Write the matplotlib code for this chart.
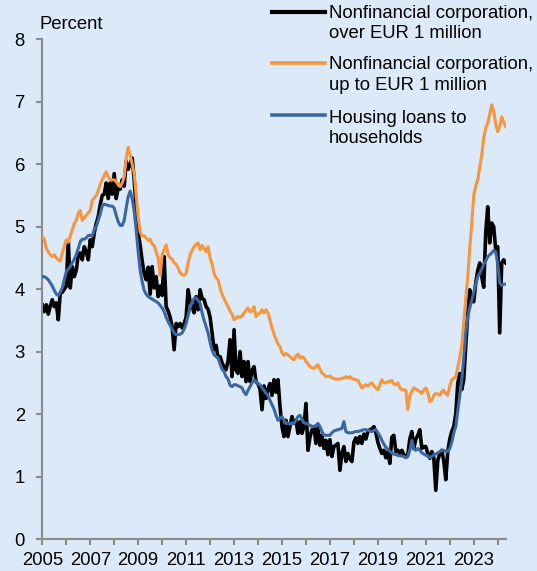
import numpy as np
import pandas as pd
import matplotlib
matplotlib.use("Agg")
import matplotlib.pyplot as plt
from matplotlib.lines import Line2D

plt.rcParams['font.family'] = ['Liberation Sans', 'DejaVu Sans']

# monthly interest rates, Jan 2005 - May 2024 (percent)
nfc_over_1m = [
    3.75, 3.64, 3.75, 3.60, 3.73, 3.83, 3.72, 3.78, 3.51, 3.94, 3.95, 4.00,  # 2005
    4.05, 4.78, 4.02, 4.36, 4.20, 4.30, 4.55, 4.58, 4.47, 4.68, 4.60, 4.47,  # 2006
    4.79, 4.68, 4.90, 5.05, 5.16, 5.35, 5.50, 5.52, 5.70, 5.45, 5.70, 5.52,  # 2007
    5.85, 5.45, 5.62, 5.60, 5.75, 5.65, 6.05, 5.92, 6.00, 6.10, 5.75, 5.30,  # 2008
    4.90, 4.70, 4.45, 4.25, 4.15, 4.35, 3.92, 4.36, 4.02, 4.20, 3.88, 4.05,  # 2009
    3.90, 4.52, 3.72, 3.65, 3.55, 3.40, 3.03, 3.45, 3.40, 3.45, 3.38, 3.45,  # 2010
    3.55, 3.99, 3.80, 3.72, 3.62, 3.88, 3.67, 3.99, 3.85, 3.83, 3.72, 3.68,  # 2011
    3.55, 3.30, 3.03, 3.10, 2.90, 2.92, 2.82, 2.75, 2.71, 2.85, 3.19, 2.60,  # 2012
    3.35, 2.70, 2.65, 3.00, 2.60, 2.84, 2.52, 2.84, 2.52, 2.70, 2.76, 2.52,  # 2013
    2.48, 2.40, 2.07, 2.45, 2.25, 2.40, 2.49, 2.30, 2.55, 2.35, 2.55, 2.12,  # 2014
    1.80, 1.64, 1.90, 1.64, 1.80, 1.96, 1.85, 1.90, 1.69, 1.88, 1.69, 1.80,  # 2015
    2.17, 1.42, 1.63, 1.75, 1.80, 1.53, 1.78, 1.50, 1.66, 1.45, 1.58, 1.35,  # 2016
    1.59, 1.32, 1.48, 1.50, 1.53, 1.10, 1.37, 1.48, 1.24, 1.37, 1.28, 1.24,  # 2017
    1.55, 1.62, 1.53, 1.64, 1.53, 1.68, 1.60, 1.72, 1.75, 1.76, 1.80, 1.70,  # 2018
    1.55, 1.45, 1.37, 1.42, 1.30, 1.40, 1.21, 1.63, 1.66, 1.40, 1.42, 1.37,  # 2019
    1.42, 1.35, 1.32, 1.35, 1.60, 1.72, 1.45, 1.60, 1.66, 1.75, 1.45, 1.48,  # 2020
    1.48, 1.37, 1.29, 1.40, 1.30, 0.78, 1.26, 1.37, 1.42, 1.25, 0.95, 1.40,  # 2021
    1.60, 1.72, 1.80, 2.00, 2.49, 2.65, 2.39, 2.55, 3.10, 3.60, 3.99, 3.80,  # 2022
    3.80, 4.10, 4.30, 4.42, 4.20, 4.03, 4.90, 5.32, 4.74, 5.06, 5.00, 4.63,  # 2023
    4.68, 3.30, 4.42, 4.47, 4.42,                                            # 2024
]

nfc_up_to_1m = [
    4.84, 4.80, 4.65, 4.60, 4.55, 4.52, 4.55, 4.50, 4.47, 4.45, 4.58, 4.68,  # 2005
    4.79, 4.75, 4.85, 4.95, 5.05, 5.10, 5.22, 5.26, 5.10, 5.14, 5.18, 5.22,  # 2006
    5.26, 5.42, 5.46, 5.50, 5.58, 5.68, 5.75, 5.82, 5.88, 5.80, 5.75, 5.75,  # 2007
    5.75, 5.72, 5.68, 5.64, 5.70, 5.80, 6.10, 6.27, 6.15, 6.00, 5.85, 5.50,  # 2008
    5.15, 4.92, 4.85, 4.85, 4.82, 4.78, 4.80, 4.72, 4.70, 4.60, 4.50, 4.22,  # 2009
    4.55, 4.63, 4.71, 4.55, 4.50, 4.48, 4.42, 4.40, 4.34, 4.26, 4.23, 4.22,  # 2010
    4.25, 4.42, 4.55, 4.62, 4.68, 4.72, 4.74, 4.63, 4.70, 4.65, 4.60, 4.68,  # 2011
    4.50, 4.40, 4.25, 4.18, 4.15, 4.02, 3.92, 3.85, 3.78, 3.72, 3.65, 3.60,  # 2012
    3.51, 3.54, 3.56, 3.55, 3.57, 3.62, 3.66, 3.70, 3.64, 3.65, 3.72, 3.56,  # 2013
    3.60, 3.62, 3.67, 3.62, 3.67, 3.62, 3.50, 3.38, 3.28, 3.20, 3.12, 3.08,  # 2014
    2.98, 2.94, 2.97, 2.95, 2.92, 2.89, 2.87, 2.93, 2.96, 2.90, 2.92, 2.90,  # 2015
    2.84, 2.80, 2.76, 2.74, 2.73, 2.76, 2.79, 2.72, 2.66, 2.63, 2.60, 2.60,  # 2016
    2.61, 2.58, 2.57, 2.56, 2.56, 2.56, 2.57, 2.58, 2.60, 2.58, 2.60, 2.57,  # 2017
    2.56, 2.55, 2.54, 2.48, 2.42, 2.45, 2.47, 2.45, 2.48, 2.50, 2.45, 2.42,  # 2018
    2.39, 2.47, 2.55, 2.50, 2.50, 2.52, 2.52, 2.54, 2.48, 2.47, 2.50, 2.42,  # 2019
    2.39, 2.39, 2.38, 2.07, 2.30, 2.36, 2.42, 2.40, 2.38, 2.36, 2.33, 2.38,  # 2020
    2.42, 2.35, 2.20, 2.22, 2.30, 2.33, 2.32, 2.30, 2.36, 2.38, 2.33, 2.30,  # 2021
    2.45, 2.55, 2.57, 2.60, 2.75, 2.90, 3.10, 3.45, 3.85, 4.20, 4.65, 5.05,  # 2022
    5.50, 5.65, 5.75, 5.95, 6.15, 6.42, 6.58, 6.66, 6.80, 6.95, 6.85, 6.65,  # 2023
    6.52, 6.60, 6.76, 6.68, 6.60,                                            # 2024
]

housing = [
    4.20, 4.20, 4.18, 4.15, 4.10, 4.05, 3.98, 3.92, 3.90, 3.95, 4.02, 4.15,  # 2005
    4.28, 4.32, 4.36, 4.42, 4.48, 4.55, 4.65, 4.76, 4.80, 4.80, 4.82, 4.86,  # 2006
    4.86, 4.85, 4.95, 5.00, 5.10, 5.20, 5.33, 5.36, 5.35, 5.34, 5.33, 5.33,  # 2007
    5.30, 5.18, 5.08, 5.02, 5.02, 5.10, 5.30, 5.48, 5.57, 5.45, 5.25, 4.95,  # 2008
    4.60, 4.30, 4.12, 3.98, 3.92, 3.88, 3.86, 3.84, 3.82, 3.80, 3.78, 3.74,  # 2009
    3.70, 3.64, 3.55, 3.48, 3.42, 3.36, 3.30, 3.27, 3.27, 3.28, 3.30, 3.36,  # 2010
    3.45, 3.58, 3.70, 3.80, 3.85, 3.86, 3.82, 3.77, 3.62, 3.50, 3.40, 3.30,  # 2011
    3.15, 3.02, 2.95, 2.92, 2.90, 2.80, 2.72, 2.68, 2.60, 2.56, 2.46, 2.44,  # 2012
    2.47, 2.47, 2.45, 2.44, 2.42, 2.35, 2.31, 2.38, 2.44, 2.50, 2.55, 2.52,  # 2013
    2.48, 2.47, 2.42, 2.38, 2.33, 2.30, 2.22, 2.15, 2.08, 1.98, 1.90, 1.93,  # 2014
    1.96, 1.90, 1.85, 1.85, 1.84, 1.86, 1.85, 1.90, 1.96, 1.98, 1.92, 1.86,  # 2015
    1.85, 1.84, 1.82, 1.80, 1.80, 1.82, 1.85, 1.80, 1.72, 1.66, 1.66, 1.66,  # 2016
    1.66, 1.70, 1.73, 1.74, 1.75, 1.76, 1.77, 1.88, 1.72, 1.70, 1.70, 1.70,  # 2017
    1.71, 1.72, 1.72, 1.73, 1.74, 1.75, 1.75, 1.74, 1.73, 1.72, 1.74, 1.75,  # 2018
    1.70, 1.65, 1.58, 1.52, 1.47, 1.44, 1.40, 1.38, 1.36, 1.35, 1.34, 1.33,  # 2019
    1.33, 1.32, 1.30, 1.32, 1.42, 1.58, 1.44, 1.42, 1.45, 1.42, 1.38, 1.36,  # 2020
    1.34, 1.33, 1.30, 1.32, 1.35, 1.36, 1.38, 1.40, 1.42, 1.42, 1.40, 1.40,  # 2021
    1.45, 1.55, 1.70, 1.80, 2.05, 2.30, 2.55, 2.90, 3.30, 3.56, 3.70, 3.82,  # 2022
    3.95, 4.08, 4.20, 4.25, 4.32, 4.40, 4.45, 4.52, 4.55, 4.58, 4.62, 4.60,  # 2023
    4.40, 4.10, 4.06, 4.08, 4.08,                                            # 2024
]

labels = ["Nonfinancial corporation,\nover EUR 1 million",
          "Nonfinancial corporation,\nup to EUR 1 million",
          "Housing loans to\nhouseholds"]
colors = ["#000000", "#f7963c", "#3b67a0"]
widths = [2.6, 2.2, 2.2]

dates = pd.date_range("2005-01-01", periods=len(housing), freq="MS")
t = dates.year + (dates.month - 1) / 12.0

bg = "#dce9f8"
W, H = 537, 571
fig = plt.figure(figsize=(W / 100, H / 100), dpi=100, facecolor=bg)
ax = fig.add_axes([42.3 / W, 1 - 539 / H, (505.7 - 42.3) / W, (539 - 39.3) / H])
ax.set_facecolor(bg)

series = [nfc_over_1m, nfc_up_to_1m, housing]
for vals, c, lw, z in zip(series, colors, widths, [2, 3, 4]):
    ax.plot(t, vals, color=c, lw=lw, zorder=z, solid_joinstyle="round")

ax.set_xlim(2005, t[-1])
ax.set_ylim(0, 8)
ax.set_yticks(range(0, 9))
years = list(range(2005, 2025))
ax.set_xticks(years)
ax.set_xticklabels([str(y) if y % 2 == 1 else "" for y in years])

for s in ["top", "right"]:
    ax.spines[s].set_visible(False)
for s in ["left", "bottom"]:
    ax.spines[s].set_color("#8c8c8c")
    ax.spines[s].set_linewidth(1.5)
ax.tick_params(axis="both", colors="#8c8c8c", labelcolor="black",
               labelsize=13.3, width=1.5, length=4.5, direction="out")
ax.tick_params(axis="y", pad=8)
ax.tick_params(axis="x", pad=5)

fig.text(39.3 / W, 1 - 29 / H, "Percent", fontsize=13.3, ha="left", va="baseline")

# legend drawn by hand so the key lines sit on the first text line
handle_y = [11.7, 62.7, 115]
text_base = [(17.7, 38.5), (69.3, 90), (122.7, 142.7)]
for lab, c, lw, hy, (b1, b2) in zip(labels, colors, widths, handle_y, text_base):
    fig.add_artist(Line2D([271.7 / W, 325 / W], [1 - hy / H, 1 - hy / H],
                          color=c, lw=lw + 0.4, transform=fig.transFigure))
    l1, l2 = lab.split("\n")
    fig.text(329 / W, 1 - b1 / H, l1, fontsize=13.3, ha="left", va="baseline")
    fig.text(329 / W, 1 - b2 / H, l2, fontsize=13.3, ha="left", va="baseline")

fig.savefig("out.png", dpi=100, facecolor=bg)
